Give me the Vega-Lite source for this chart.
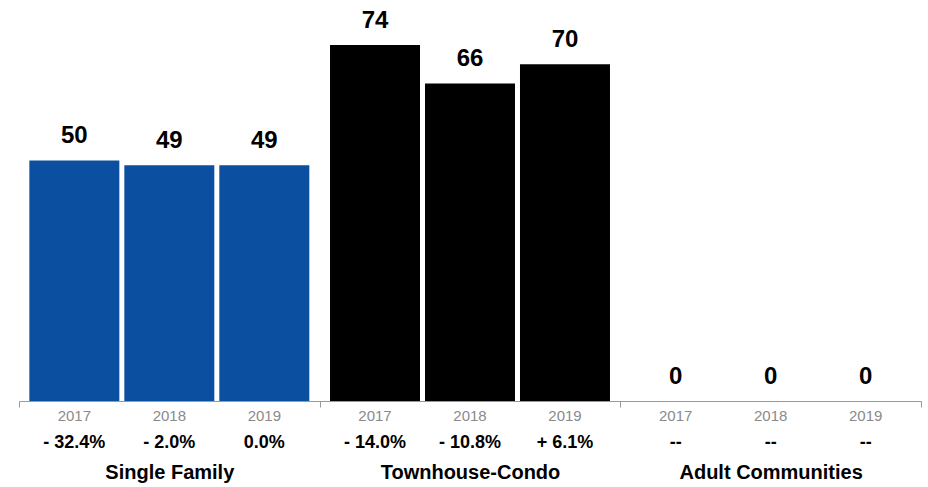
{
  "$schema": "https://vega.github.io/schema/vega-lite/v6.json",
  "width": 902,
  "height": 356,
  "autosize": {"type": "none"},
  "padding": {"left": 19, "top": 45, "right": 7, "bottom": 86},
  "config": {"view": {"stroke": null}, "font": "Liberation Sans"},
  "data": {
    "values": [
      {"group": "Single Family", "year": "2017", "value": 50, "change": "- 32.4%"},
      {"group": "Single Family", "year": "2018", "value": 49, "change": "- 2.0%"},
      {"group": "Single Family", "year": "2019", "value": 49, "change": "0.0%"},
      {"group": "Townhouse-Condo", "year": "2017", "value": 74, "change": "- 14.0%"},
      {"group": "Townhouse-Condo", "year": "2018", "value": 66, "change": "- 10.8%"},
      {"group": "Townhouse-Condo", "year": "2019", "value": 70, "change": "+ 6.1%"},
      {"group": "Adult Communities", "year": "2017", "value": 0, "change": "--"},
      {"group": "Adult Communities", "year": "2018", "value": 0, "change": "--"},
      {"group": "Adult Communities", "year": "2019", "value": 0, "change": "--"}
    ]
  },
  "encoding": {
    "x": {
      "field": "group",
      "type": "nominal",
      "sort": ["Single Family", "Townhouse-Condo", "Adult Communities"],
      "scale": {"paddingInner": 0, "paddingOuter": 0},
      "axis": {
        "title": null,
        "labelAngle": 0,
        "labelLimit": 0,
        "tickBand": "extent",
        "tickSize": 6,
        "tickColor": "#9a9a9a",
        "domainColor": "#9a9a9a",
        "labelPadding": 55,
        "labelFontSize": 20,
        "labelFontWeight": "bold",
        "labelColor": "#000000",
        "labelFont": "Liberation Sans"
      }
    },
    "xOffset": {
      "field": "year",
      "type": "nominal",
      "scale": {"paddingInner": 0.0526, "paddingOuter": 0.109}
    }
  },
  "layer": [
    {
      "mark": {"type": "bar"},
      "encoding": {
        "y": {"field": "value", "type": "quantitative", "scale": {"domain": [0, 74], "nice": false}, "axis": null},
        "color": {
          "field": "group",
          "type": "nominal",
          "scale": {"domain": ["Single Family", "Townhouse-Condo", "Adult Communities"], "range": ["#0A4FA0", "#000000", "#888888"]},
          "legend": null
        }
      }
    },
    {
      "mark": {"type": "text", "baseline": "alphabetic", "dy": -17, "fontSize": 24, "fontWeight": "bold", "color": "#000000"},
      "encoding": {
        "y": {"field": "value", "type": "quantitative"},
        "text": {"field": "value", "type": "quantitative"}
      }
    },
    {
      "mark": {"type": "text", "baseline": "middle", "dy": 15, "fontSize": 15, "color": "#8a8a8a"},
      "encoding": {
        "y": {"datum": 0, "type": "quantitative"},
        "text": {"field": "year"}
      }
    },
    {
      "mark": {"type": "text", "baseline": "middle", "dy": 42, "fontSize": 18, "fontWeight": "bold", "color": "#000000"},
      "encoding": {
        "y": {"datum": 0, "type": "quantitative"},
        "text": {"field": "change"}
      }
    }
  ]
}
